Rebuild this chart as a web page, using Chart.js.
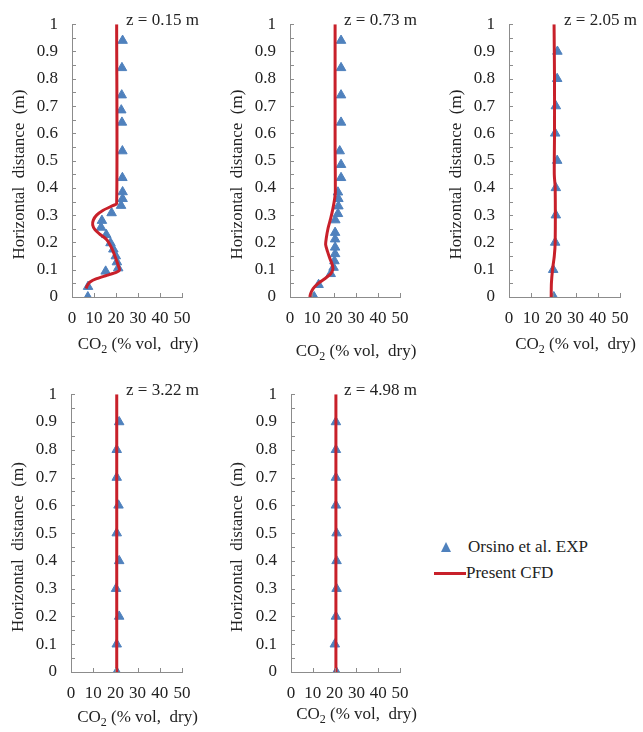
<!DOCTYPE html>
<html>
<head>
<meta charset="utf-8">
<script src="https://cdn.jsdelivr.net/npm/chart.js@4.4.0/dist/chart.umd.min.js"></script>
<style>
  body { margin: 0; background: #fff; width: 643px; height: 732px; position: relative; overflow: hidden; font-family: "Liberation Serif", "DejaVu Serif", serif; }
  canvas { position: absolute; }
  .lg { position: absolute; font-family: "Liberation Serif", "DejaVu Serif", serif; font-size: 17px; color: #222; line-height: 20px; white-space: nowrap; }
</style>
</head>
<body>
<canvas id="c1" width="215" height="365" style="left:0;top:0"></canvas>
<canvas id="c2" width="215" height="365" style="left:215px;top:0"></canvas>
<canvas id="c3" width="213" height="365" style="left:430px;top:0"></canvas>
<canvas id="c4" width="215" height="362" style="left:0;top:370px"></canvas>
<canvas id="c5" width="215" height="362" style="left:215px;top:370px"></canvas>

<div style="position:absolute;left:441px;top:542px;width:0;height:0;border-left:5.5px solid transparent;border-right:5.5px solid transparent;border-bottom:10px solid #4f81bd"></div>
<div class="lg" style="left:468px;top:537px">Orsino et al. EXP</div>
<div style="position:absolute;left:434px;top:572px;width:32px;height:3px;background:#c8202a"></div>
<div class="lg" style="left:466px;top:563px">Present CFD</div>

<script>
// panel titles
const panelLabels = ['z = 0.15 m', 'z = 0.73 m', 'z = 2.05 m', 'z = 3.22 m', 'z = 4.98 m'];

// experiment (Orsino et al.) - horizontal distance (m) / CO2 (% vol, dry)
const exp1Dist = [0.94, 0.84, 0.74, 0.685, 0.64, 0.535, 0.437, 0.385, 0.36, 0.335, 0.308, 0.28, 0.255, 0.228, 0.198, 0.175, 0.15, 0.128, 0.106, 0.094, 0.038, 0.0];
const exp1CO2  = [23, 22.7, 22.6, 22.4, 22.7, 22.9, 22.9, 23, 23, 22.3, 18, 13.6, 13.2, 15.6, 17.5, 18.8, 19.9, 20.4, 21, 15.3, 7.3, 7.2];
const exp2Dist = [0.94, 0.84, 0.74, 0.64, 0.535, 0.485, 0.437, 0.384, 0.36, 0.333, 0.305, 0.282, 0.236, 0.212, 0.182, 0.158, 0.132, 0.108, 0.085, 0.045, 0.0];
const exp2CO2  = [23.2, 23.2, 23.2, 23.2, 22.6, 23.2, 23.2, 21.8, 22, 22, 21.8, 20.6, 20.5, 20.5, 20.5, 20.5, 20.2, 19.8, 18.5, 13, 11];
const exp3Dist = [0.9, 0.8, 0.7, 0.6, 0.5, 0.4, 0.3, 0.2, 0.1, 0.0];
const exp3CO2  = [21.8, 21.7, 21.1, 20.8, 21.7, 21.1, 21.1, 20.8, 19.9, 20.2];
const exp4Dist = [0.9, 0.8, 0.7, 0.6, 0.5, 0.4, 0.3, 0.2, 0.1, 0.0];
const exp4CO2  = [21.7, 20.6, 20.6, 21.4, 20.6, 21.7, 20.3, 21.7, 20.6, 20.6];
const exp5Dist = [0.9, 0.8, 0.7, 0.6, 0.5, 0.4, 0.3, 0.2, 0.1, 0.0];
const exp5CO2  = [20.6, 20.6, 20.6, 20.6, 20.9, 20.9, 20.9, 20.6, 20.1, 20.8];

// present CFD
const cfd1Dist = [1.0, 0.342, 0.336, 0.318, 0.3, 0.282, 0.264, 0.246, 0.23, 0.21, 0.18, 0.15, 0.121, 0.099, 0.091, 0.079, 0.067, 0.055, 0.043, 0.031];
const cfd1CO2  = [20.3, 20.3, 18.8, 14.2, 11.2, 9.7, 9.4, 10.5, 12.7, 15.8, 18, 19.5, 20.8, 21.6, 20.3, 15.8, 11.2, 8.2, 7, 6.4];
const cfd2Dist = [1.0, 0.55, 0.383, 0.36, 0.324, 0.288, 0.252, 0.216, 0.192, 0.168, 0.144, 0.121, 0.103, 0.085, 0.067, 0.049, 0.031, 0.013, 0.0];
const cfd2CO2  = [20.5, 20.5, 20.6, 20.3, 19.5, 18.5, 17.3, 16.5, 16.2, 17, 18, 19.1, 19.5, 18.5, 15.8, 12.7, 10.5, 9.4, 9];
const cfd3Dist = [1.0, 0.8, 0.6, 0.45, 0.4, 0.2, 0.15, 0.1, 0.05, 0.0];
const cfd3CO2  = [20.3, 20.5, 20.5, 20.4, 20.8, 20.8, 20.4, 19.6, 19.1, 19.0];
const cfd4Dist = [1.0, 0.0];
const cfd4CO2  = [20.6, 20.6];
const cfd5Dist = [1.0, 0.0];
const cfd5CO2  = [20.6, 20.6];

const expData = [[exp1CO2, exp1Dist], [exp2CO2, exp2Dist], [exp3CO2, exp3Dist], [exp4CO2, exp4Dist], [exp5CO2, exp5Dist]];
const cfdData = [[cfd1CO2, cfd1Dist], [cfd2CO2, cfd2Dist], [cfd3CO2, cfd3Dist], [cfd4CO2, cfd4Dist], [cfd5CO2, cfd5Dist]];

const textColor = '#222';
const axisColor = '#8c8c8c';
const serif = '"Liberation Serif", "DejaVu Serif", serif';

// where each plot sits inside its canvas
const boxes = [
    { yW: 72, right: 33, top: 18, xH: 68, yTitleX: 20, xTitleDy: 48 },
    { yW: 75, right: 30, top: 18, xH: 68, yTitleX: 23, xTitleDy: 55 },
    { yW: 79, right: 23, top: 18, xH: 68, yTitleX: 27, xTitleDy: 48 },
    { yW: 71, right: 33, top: 22, xH: 60, yTitleX: 19, xTitleDy: 46 },
    { yW: 76, right: 30, top: 22, xH: 60, yTitleX: 23, xTitleDy: 43 }
];

function toPoints(xs, ys) {
    return xs.map((v, i) => ({ x: v, y: ys[i] }));
}

const decorPlugin = {
    id: 'decor',
    afterDraw(chart, args, opts) {
        const { ctx, chartArea: a, scales } = chart;
        const x = scales.x, y = scales.y;
        ctx.save();

        // inward tick marks
        ctx.strokeStyle = axisColor;
        ctx.lineWidth = 1;
        ctx.beginPath();
        for (let k = 0; k <= 20; k++) {
            const py = Math.round(y.getPixelForValue(k * 0.05)) + 0.5;
            ctx.moveTo(a.left, py);
            ctx.lineTo(a.left + 4, py);
        }
        x.ticks.forEach(t => {
            const px = Math.round(x.getPixelForValue(t.value)) + 0.5;
            ctx.moveTo(px, a.bottom);
            ctx.lineTo(px, a.bottom - 4);
        });
        ctx.stroke();

        ctx.fillStyle = textColor;
        ctx.textBaseline = 'middle';

        // panel label
        ctx.font = '17px ' + serif;
        ctx.textAlign = 'left';
        ctx.fillText(opts.label, a.right - 56, a.top - 4);

        // x title with subscript 2
        const ty = a.bottom + opts.xTitleDy;
        const w1 = ctx.measureText('CO').width;
        ctx.font = '12px ' + serif;
        const w2 = ctx.measureText('2').width;
        ctx.font = '17px ' + serif;
        const rest = ' (% vol,  dry)';
        const w3 = ctx.measureText(rest).width;
        let sx = (a.left + a.right) / 2 + 11 - (w1 + w2 + w3) / 2;
        ctx.fillText('CO', sx, ty);
        ctx.font = '12px ' + serif;
        ctx.fillText('2', sx + w1, ty + 5);
        ctx.font = '17px ' + serif;
        ctx.fillText(rest, sx + w1 + w2, ty);

        // y title
        ctx.translate(opts.yTitleX, (a.top + a.bottom) / 2 + 14);
        ctx.rotate(-Math.PI / 2);
        ctx.textAlign = 'center';
        ctx.fillText('Horizontal  distance  (m)', 0, 0);
        ctx.restore();
    }
};

function makePanel(i) {
    const b = boxes[i];
    const ctx = document.getElementById('c' + (i + 1)).getContext('2d');
    return new Chart(ctx, {
        type: 'scatter',
        data: {
            datasets: [
                {
                    label: 'Present CFD',
                    data: toPoints(cfdData[i][0], cfdData[i][1]),
                    showLine: true,
                    borderColor: '#c8202a',
                    borderWidth: 3,
                    pointRadius: 0,
                    tension: 0.25,
                    order: 0
                },
                {
                    label: 'Orsino et al. EXP',
                    data: toPoints(expData[i][0], expData[i][1]),
                    pointStyle: 'triangle',
                    pointRadius: 5.5,
                    backgroundColor: '#4f81bd',
                    borderColor: '#4f81bd',
                    borderWidth: 1,
                    order: 1
                }
            ]
        },
        options: {
            responsive: false,
            animation: false,
            layout: { padding: { left: 0, right: b.right, top: b.top, bottom: 0 } },
            plugins: {
                legend: { display: false },
                tooltip: { enabled: false },
                decor: { label: panelLabels[i], yTitleX: b.yTitleX, xTitleDy: b.xTitleDy }
            },
            scales: {
                x: {
                    type: 'linear',
                    min: 0,
                    max: 50,
                    grid: { display: false, drawTicks: false },
                    border: { display: true, color: axisColor, width: 1 },
                    ticks: {
                        stepSize: 10,
                        autoSkip: false,
                        maxRotation: 0,
                        padding: 11,
                        color: textColor,
                        font: { family: serif, size: 17 }
                    },
                    afterFit: s => { s.height = b.xH; }
                },
                y: {
                    type: 'linear',
                    min: 0,
                    max: 1,
                    grid: { display: false, drawTicks: false },
                    border: { display: true, color: axisColor, width: 1 },
                    ticks: {
                        stepSize: 0.1,
                        padding: 14,
                        color: textColor,
                        font: { family: serif, size: 17 },
                        callback: v => String(+v.toFixed(2))
                    },
                    afterFit: s => { s.width = b.yW; }
                }
            }
        },
        plugins: [decorPlugin]
    });
}

for (let i = 0; i < 5; i++) makePanel(i);
</script>
</body>
</html>
